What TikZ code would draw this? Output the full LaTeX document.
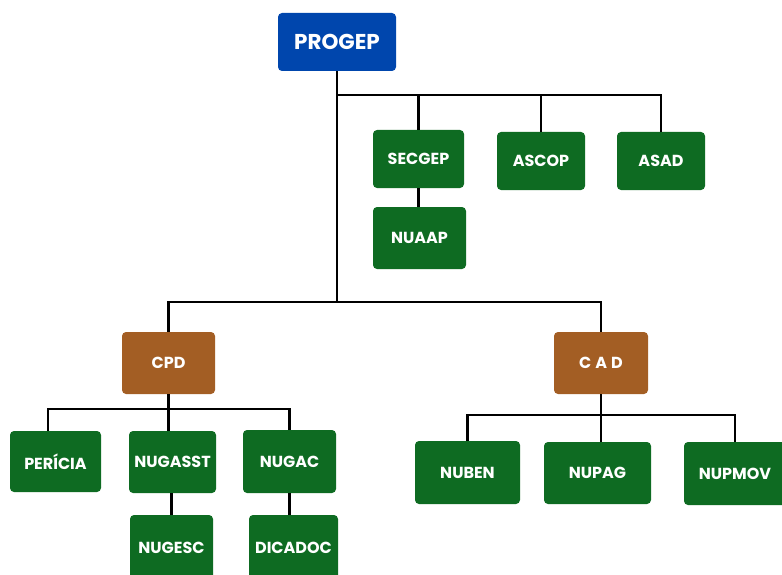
\documentclass[tikz,border=0pt]{standalone}
\usepackage{fontspec}
\setmainfont{Poppins}
\definecolor{progblue}{RGB}{0,70,173}
\definecolor{unitgreen}{RGB}{14,107,34}
\definecolor{coordbrown}{RGB}{163,94,36}
\begin{document}
\begin{tikzpicture}[x=1pt,y=-1pt,
  box/.style={rectangle, rounded corners=4pt, fill=unitgreen, text=white,
    font=\bfseries\fontsize{16}{18}\selectfont, inner sep=0pt},
  topbox/.style={box, fill=progblue, font=\bfseries\fontsize{21.5}{24}\selectfont},
  coordbox/.style={box, fill=coordbrown},
  conn/.style={draw=black, line width=2.8pt}]
\useasboundingbox (0,0) rectangle (782,575);
% nodes
\node[topbox, minimum width=118pt, minimum height=58pt] (progep) at (337,42) {PROGEP};
\node[box, minimum width=91pt, minimum height=58pt] (secgep) at (418.5,159) {SECGEP};
\node[box, minimum width=88pt, minimum height=58pt] (ascop) at (541,161) {ASCOP};
\node[box, minimum width=88pt, minimum height=58pt] (asad) at (661,161) {ASAD};
\node[box, minimum width=93pt, minimum height=62pt] (nuaap) at (419.5,238) {NUAAP};
\node[coordbox, minimum width=93pt, minimum height=62pt] (cpd) at (168.5,363) {CPD};
\node[coordbox, minimum width=94pt, minimum height=62pt] (cad) at (601,363) {\addfontfeature{LetterSpace=25}CAD};
\node[box, minimum width=91pt, minimum height=61pt] (pericia) at (55.5,461.5) {PERÍCIA};
\node[box, minimum width=87pt, minimum height=62pt] (nugasst) at (172.5,462) {NUGASST};
\node[box, minimum width=93pt, minimum height=63pt] (nugac) at (289.5,461.5) {NUGAC};
\node[box, minimum width=83pt, minimum height=66pt] (nugesc) at (171.5,548) {NUGESC};
\node[box, minimum width=89pt, minimum height=66pt] (dicadoc) at (293.5,548) {DICADOC};
\node[box, minimum width=105pt, minimum height=63pt] (nuben) at (467.5,472.5) {NUBEN};
\node[box, minimum width=107pt, minimum height=62pt] (nupag) at (597.5,473) {NUPAG};
\node[box, minimum width=102pt, minimum height=63pt] (nupmov) at (735,473.5) {NUPMOV};
% bar levels
\coordinate (topbar) at (0,95);
\coordinate (lowbar) at (0,302);
\coordinate (cpdbar) at (0,409);
\coordinate (cadbar) at (0,415);
\coordinate (pericialink) at (48,0);
% connectors
\draw[conn] (progep.south) -- (progep.south |- lowbar);
\draw[conn] (progep.south |- topbar) -| (asad.north);
\draw[conn] (secgep.north |- topbar) -- (secgep.north);
\draw[conn] (ascop.north |- topbar) -- (ascop.north);
\draw[conn] (secgep.south) -- (secgep.south |- nuaap.north);
\draw[conn] (cpd.north) |- (cad.north |- lowbar) -- (cad.north);
\draw[conn] (pericialink |- pericia.north) |- (nugac.north |- cpdbar) -- (nugac.north);
\draw[conn] (cpd.south) -- (cpd.south |- nugasst.north);
\draw[conn] (nugasst.south -| nugesc.north) -- (nugesc.north);
\draw[conn] (nugac.south) -- (nugac.south |- dicadoc.north);
\draw[conn] (nuben.north) |- (nupmov.north |- cadbar) -- (nupmov.north);
\draw[conn] (cad.south) -- (cad.south |- nupag.north);
\end{tikzpicture}
\end{document}
